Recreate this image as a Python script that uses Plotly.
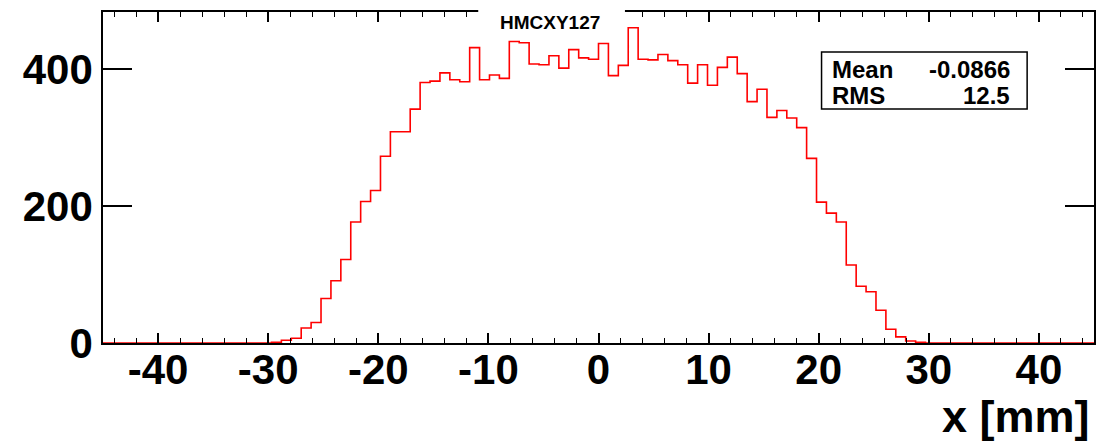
import numpy as np
import plotly.graph_objects as go

# ---- data ----
x_low = -45.0
x_high = 45.0
n_bins = 100
counts = [
    0, 0, 0, 0, 0, 0, 0, 0, 0, 0,
    0, 0, 0, 0, 0, 0, 0, 1, 4, 7,
    22, 30, 65, 91, 122, 177, 207, 223, 273, 309,
    309, 342, 381, 383, 395, 385, 382, 432, 385, 392,
    387, 441, 439, 408, 407, 420, 402, 429, 417, 415,
    438, 391, 406, 461, 415, 414, 422, 413, 407, 380,
    407, 377, 403, 418, 394, 353, 371, 330, 340, 329,
    315, 270, 206, 190, 177, 114, 83, 75, 48, 20,
    9, 3, 1, 0, 0, 0, 0, 0, 0, 0,
    0, 0, 0, 0, 0, 0, 0, 0, 0, 0,
]
x_ticks = [-40, -30, -20, -10, 0, 10, 20, 30, 40]
x_tick_labels = ["-40", "-30", "-20", "-10", "0", "10", "20", "30", "40"]
y_ticks = [0, 200, 400]
y_tick_labels = ["0", "200", "400"]
title_text = "HMCXY127"
stat_names = ["Mean", "RMS"]
stat_values = ["-0.0866", "12.5"]
x_title = "x [mm]"

edges = np.linspace(x_low, x_high, n_bins + 1)
y_step = list(counts) + [counts[-1]]
y_max = 1.05 * max(counts)

FONT = "Liberation Sans, Arial, Helvetica, sans-serif"

fig = go.Figure()
fig.add_trace(go.Scatter(
    x=edges, y=y_step, mode="lines", line_shape="hv",
    line=dict(color="#ff0000", width=1.6), showlegend=False, hoverinfo="skip",
))

axis_font = dict(family=FONT, size=42, color="black", weight="bold")
fig.update_xaxes(
    range=[x_low, x_high], tickvals=x_ticks, ticktext=x_tick_labels,
    ticks="inside", ticklen=10,
    tickwidth=1.5, tickcolor="black", showline=True, linecolor="black",
    linewidth=1.5, mirror="allticks", showgrid=False, zeroline=False,
    tickfont=axis_font, ticklabelstandoff=-11,
    minor=dict(dtick=2, ticks="inside", ticklen=5, tickwidth=1.2,
               tickcolor="black", showgrid=False),
)
fig.update_yaxes(
    range=[0, y_max], tickvals=y_ticks, ticktext=y_tick_labels,
    ticks="inside", ticklen=29,
    tickwidth=1.5, tickcolor="black", showline=True, linecolor="black",
    linewidth=1.5, mirror="allticks", showgrid=False, zeroline=False,
    tickfont=axis_font,
)

W, H = 1099, 444
L, R, T, B = 103, 3, 12, 101
pw, ph = W - L - R, H - T - B

def px(xp):
    return (xp - L) / pw

def py(yp):
    return 1 - (yp - T) / ph

shapes = [
    # title box (white, hides the frame)
    dict(type="rect", xref="paper", yref="paper", x0=px(479), x1=px(626),
         y0=py(32), y1=py(0), fillcolor="white", line=dict(width=0),
         layer="above"),
    # stats box
    dict(type="rect", xref="paper", yref="paper", x0=px(823), x1=px(1029),
         y0=py(109), y1=py(52), fillcolor="white",
         line=dict(color="black", width=1.5), layer="above"),
]

annotations = [
    dict(text=title_text, xref="paper", yref="paper", x=px(551), y=py(22.5),
         xanchor="center", yanchor="middle", showarrow=False,
         font=dict(family=FONT, size=19, color="black", weight="bold")),
    dict(text=x_title, xref="paper", yref="paper", x=px(1094), y=py(416),
         xanchor="right", yanchor="middle", showarrow=False,
         font=dict(family=FONT, size=45, color="black", weight="bold")),
]
row_y = [69.5, 95.5]
for name, val, ry in zip(stat_names, stat_values, row_y):
    annotations.append(dict(text=name, xref="paper", yref="paper", x=px(831),
                            y=py(ry), xanchor="left", yanchor="middle",
                            showarrow=False,
                            font=dict(family=FONT, size=24, color="black", weight="bold")))
    annotations.append(dict(text=val, xref="paper", yref="paper", x=px(1014),
                            y=py(ry), xanchor="right", yanchor="middle",
                            showarrow=False,
                            font=dict(family=FONT, size=24, color="black", weight="bold")))

fig.update_layout(
    width=W, height=H, margin=dict(l=L, r=R, t=T, b=B, pad=0),
    paper_bgcolor="white", plot_bgcolor="white",
    shapes=shapes, annotations=annotations, showlegend=False,
)

fig.write_html("out.html")
